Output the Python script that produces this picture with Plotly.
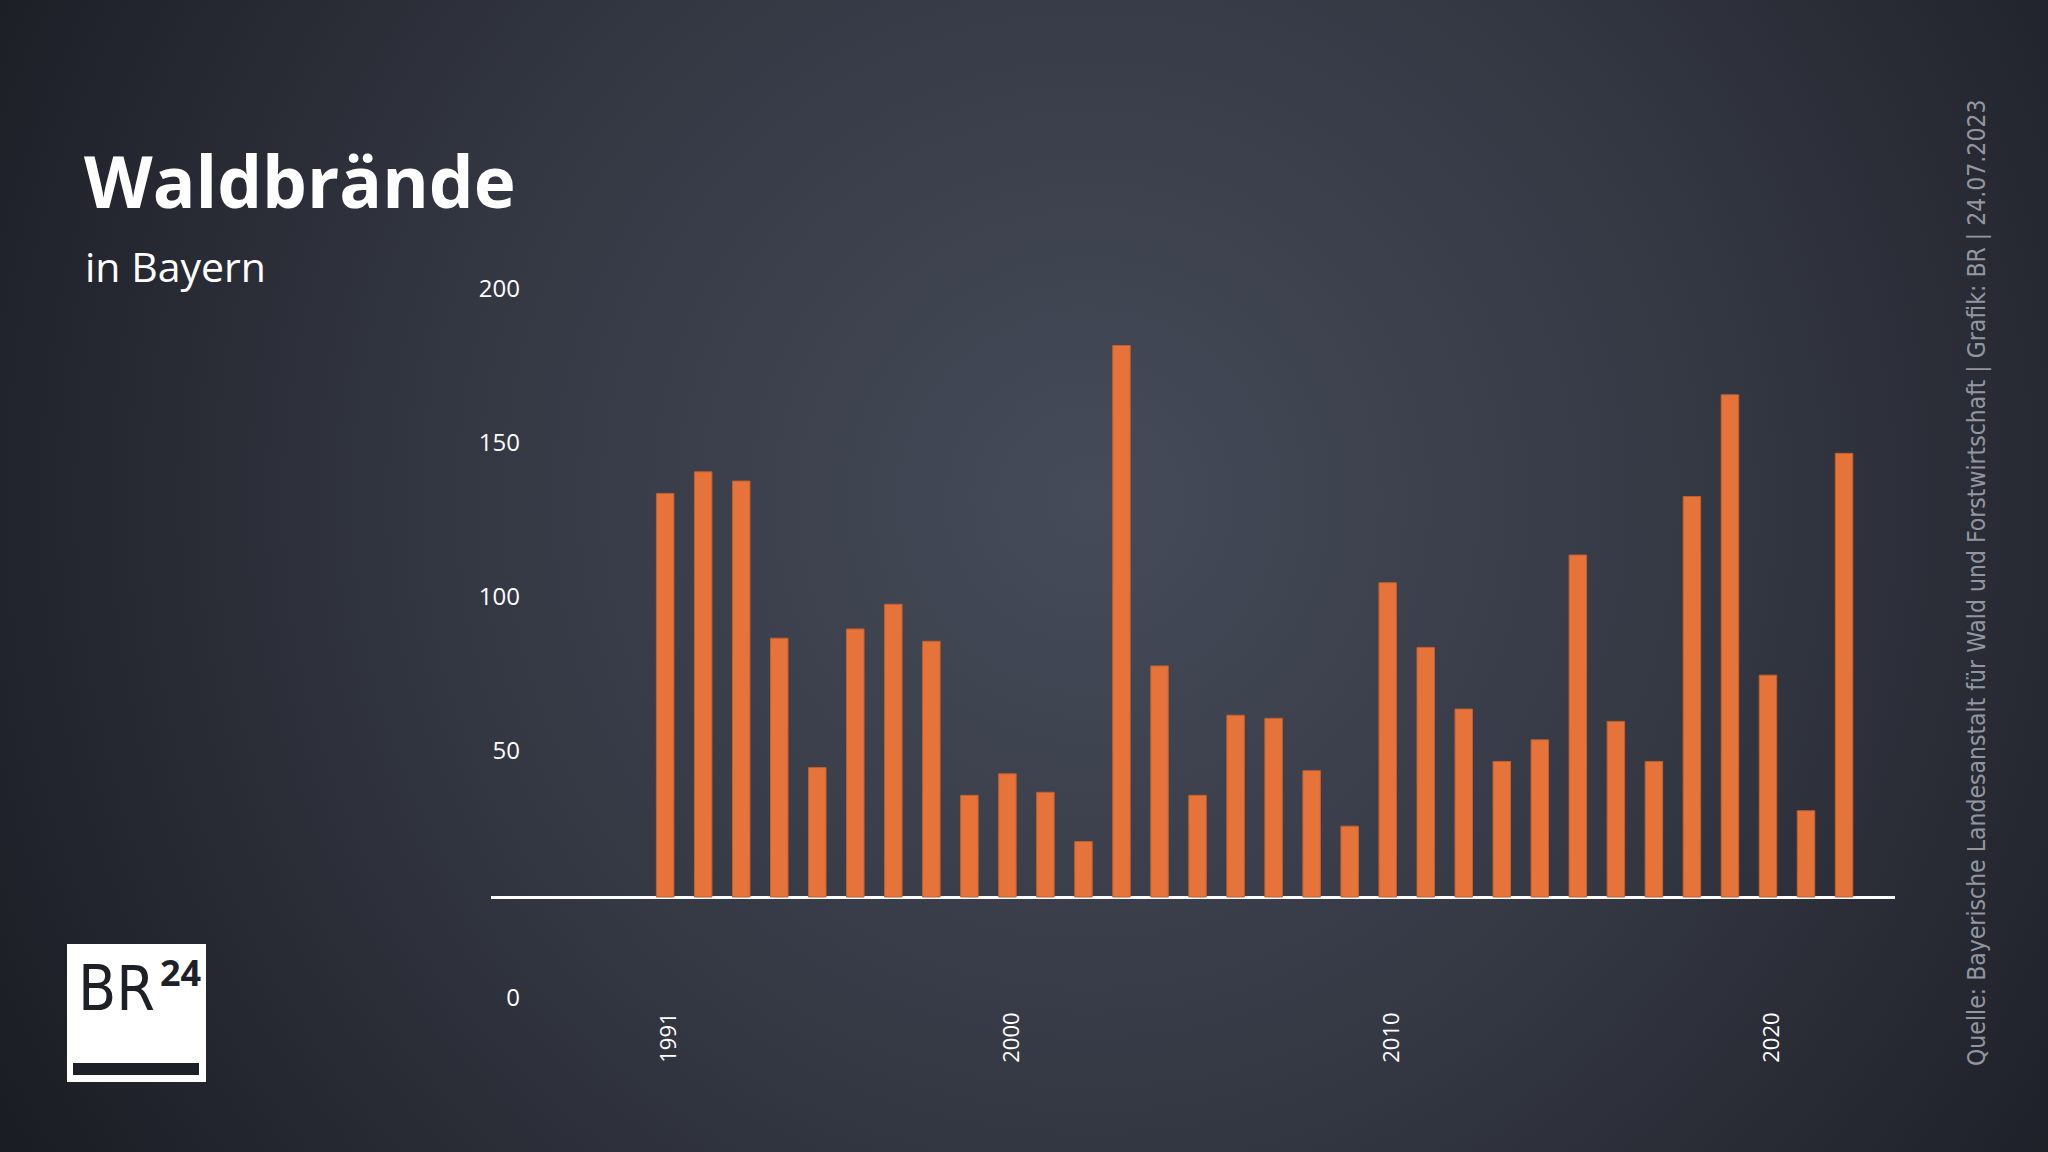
import base64
import plotly.graph_objects as go

years = list(range(1991, 2023))
fires = [131, 138, 135, 84, 42, 87, 95, 83, 33, 40, 34, 18, 179, 75, 33, 59, 58, 41,
         23, 102, 81, 61, 44, 51, 111, 57, 44, 130, 163, 72, 28, 144]
x_ticks = [1991, 2000, 2010, 2020]
y_tickvals = [-30, 50, 100, 150, 200]
y_ticktext = ["0", "50", "100", "150", "200"]

W, H = 2048, 1152
L, R, T, B = 491, 153, 250, 141
PW, PH = W - L - R, H - T - B


def px(x):
    return (x - L) / PW


def py(y):
    return 1 - (y - T) / PH


svg = (
    '<svg xmlns="http://www.w3.org/2000/svg" width="2048" height="1152">'
    '<defs><radialGradient id="g" cx="1090" cy="500" r="1250" gradientUnits="userSpaceOnUse">'
    '<stop offset="0" stop-color="#464b59"/><stop offset="0.5" stop-color="#343843"/>'
    '<stop offset="1" stop-color="#1b1d24"/></radialGradient></defs>'
    '<rect width="2048" height="1152" fill="url(#g)"/></svg>'
)
bg = "data:image/svg+xml;base64," + base64.b64encode(svg.encode()).decode()

fig = go.Figure()
fig.add_trace(go.Bar(
    x=years, y=fires, width=0.46,
    marker=dict(color="#e6743a", line=dict(color="#c45f2c", width=1)),
    hoverinfo="x+y",
))

fig.update_layout(
    width=W, height=H,
    margin=dict(l=L, r=R, t=T, b=B, pad=0),
    paper_bgcolor="#2b2e38",
    plot_bgcolor="rgba(0,0,0,0)",
    showlegend=False,
    font=dict(family="Open Sans, Noto Sans, sans-serif", color="white"),
    xaxis=dict(
        range=[1986.42, 2023.34], tickvals=x_ticks, tickangle=-90,
        showgrid=False, zeroline=False, showline=False, ticks="",
        ticklabelstandoff=-4, ticklabelshift=4,
        tickfont=dict(size=22, color="white"),
    ),
    yaxis=dict(
        range=[-37, 210], tickvals=y_tickvals, ticktext=y_ticktext,
        showgrid=False, zeroline=True, zerolinecolor="white", zerolinewidth=3,
        showline=False, ticks="", ticklabelstandoff=-30, ticklabelshift=8,
        tickfont=dict(size=24, color="white"),
    ),
    images=[dict(
        source=bg, xref="paper", yref="paper", x=px(0), y=py(0),
        sizex=W / PW, sizey=H / PH, sizing="stretch", layer="below",
        xanchor="left", yanchor="top",
    )],
)

shapes = [
    dict(type="rect", xref="paper", yref="paper", x0=px(67), x1=px(206), y0=py(944), y1=py(1082),
         fillcolor="white", line=dict(width=0), layer="above"),
    dict(type="rect", xref="paper", yref="paper", x0=px(73), x1=px(199), y0=py(1063), y1=py(1075),
         fillcolor="#1e2028", line=dict(width=0), layer="above"),
]
fig.update_layout(shapes=shapes)

ann = [
    dict(text="<b>Waldbrände</b>", x=px(82), y=py(181), xanchor="left", yanchor="middle",
         font=dict(size=71, color="white", family="Open Sans, sans-serif")),
    dict(text="in Bayern", x=px(83), y=py(266), xanchor="left", yanchor="middle",
         font=dict(size=41, color="white", family="Open Sans, sans-serif")),
    dict(text="BR", x=px(76), y=py(988), xanchor="left", yanchor="middle",
         font=dict(size=62, color="#1e2028", family="DejaVu Sans Condensed, Open Sans, sans-serif")),
    dict(text="<b>24</b>", x=px(158), y=py(972), xanchor="left", yanchor="middle",
         font=dict(size=36, color="#1e2028", family="Open Sans, sans-serif")),
    dict(text="Quelle: Bayerische Landesanstalt für Wald und Forstwirtschaft | Grafik: BR | 24.07.2023",
         x=px(1976), y=py(583), xanchor="center", yanchor="middle", textangle=-90,
         font=dict(size=24.5, color="#9296a0", family="DejaVu Sans Condensed, Open Sans, sans-serif")),
]
for a in ann:
    a.update(xref="paper", yref="paper", showarrow=False)
fig.update_layout(annotations=ann)

fig.write_html("out.html")
